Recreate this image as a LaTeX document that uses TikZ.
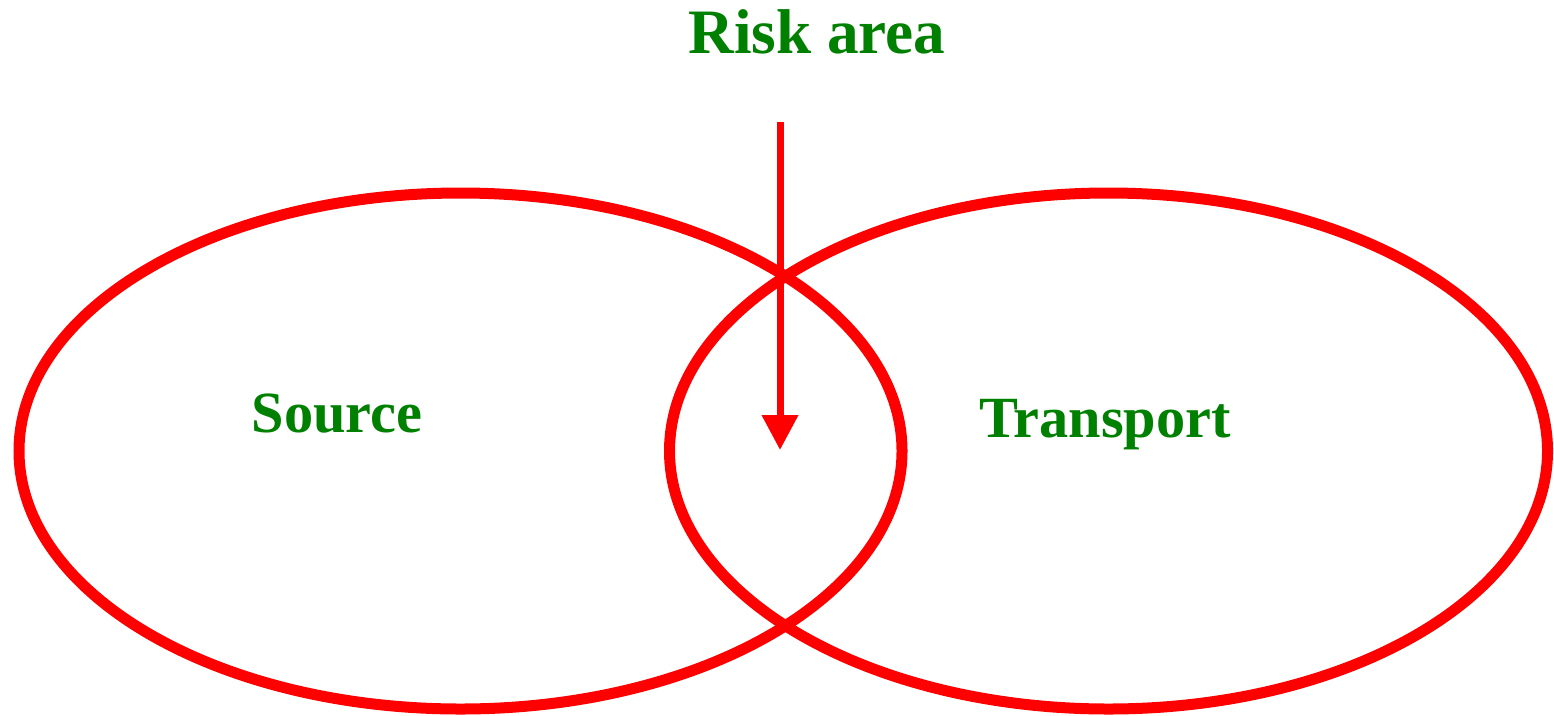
\documentclass[tikz,border=0pt]{standalone}
\usepackage{fontspec}
\setmainfont{Liberation Serif}
\usepackage{xcolor}
\usetikzlibrary{arrows.meta,positioning,shapes.geometric}
\definecolor{riskgreen}{RGB}{0,128,0}
\definecolor{riskred}{RGB}{255,0,0}

\begin{document}
\begin{tikzpicture}[
    zone/.style={draw=riskred, ellipse, line width=0.11cm, inner sep=0pt, minimum height=5.16cm},
    lbl/.style={text=riskgreen, font=\fontsize{16.6}{20}\selectfont\bfseries, anchor=base, inner sep=0pt},
    ttl/.style={text=riskgreen, font=\fontsize{18}{22}\selectfont\bfseries, anchor=base, inner sep=0pt},
    conn/.style={-{Triangle[width=0.35cm,length=0.35cm]}, line width=0.07cm, draw=riskred, color=riskred}
]
\useasboundingbox (0,0) rectangle (15.54,7.15);

% --- Overlapping zones ---
\node[zone, minimum width=8.83cm] (src) at (4.605, 2.64) {};
\node[zone, minimum width=8.78cm] (trn) at (11.085, 2.64) {};

% --- Labels ---
\node[lbl] (srclbl) at (3.37, 2.83) {Source};
\node[lbl] (trnlbl) at (11.05, 2.78) {Transport};
\node[ttl] (risk) at (8.17, 6.62) {Risk area};

% --- Arrow into overlap ---
\coordinate (atop) at (7.80, 5.93);
\coordinate (atip) at (7.80, 2.65);
\draw[conn] (atop) -- (atip);
\end{tikzpicture}
\end{document}
